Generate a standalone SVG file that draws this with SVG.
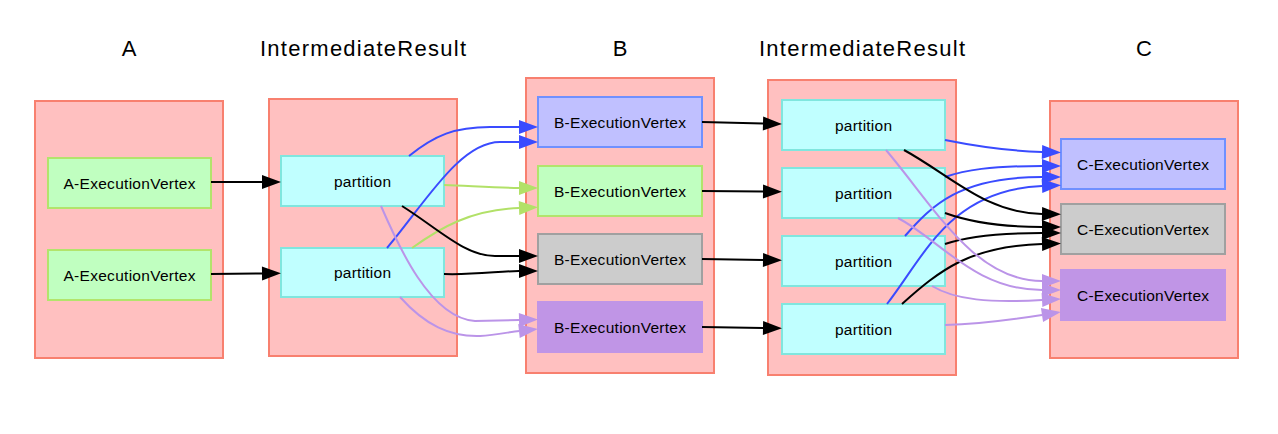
<svg xmlns="http://www.w3.org/2000/svg" width="1278" height="434" viewBox="0 0 1278 434">
<style>
.bg{fill:#ffffff}
.cluster{fill:#ffc0c0;stroke:#f8806f;stroke-width:2}
.title{font-family:"Liberation Sans",Arial,sans-serif;font-size:22px;fill:#000;text-anchor:middle}
.lbl{font-family:"Liberation Sans",Arial,sans-serif;font-size:15.5px;fill:#000;text-anchor:middle}
.green{fill:#c0ffc0;stroke:#b2e46c;stroke-width:2}
.part{fill:#c0ffff;stroke:#80e6de;stroke-width:2}
.blue{fill:#c0c0ff;stroke:#7090ff;stroke-width:2}
.gray{fill:#cccccc;stroke:#a0a0a0;stroke-width:2}
.purple{fill:#c095e6;stroke:#c095e6;stroke-width:2}
.e{fill:none;stroke-width:2}
.k{stroke:#000000}
.b{stroke:#3a4bff}
.g{stroke:#b2e168}
.p{stroke:#bb94e8}
</style>
<defs>
<marker id="ak" markerUnits="userSpaceOnUse" markerWidth="19" markerHeight="14" refX="0" refY="7" orient="auto" overflow="visible"><path d="M0,0 L19,7 L0,14 z" fill="#000000"/></marker>
<marker id="ab" markerUnits="userSpaceOnUse" markerWidth="19" markerHeight="14" refX="0" refY="7" orient="auto" overflow="visible"><path d="M0,0 L19,7 L0,14 z" fill="#3a4bff"/></marker>
<marker id="ag" markerUnits="userSpaceOnUse" markerWidth="19" markerHeight="14" refX="0" refY="7" orient="auto" overflow="visible"><path d="M0,0 L19,7 L0,14 z" fill="#b2e168"/></marker>
<marker id="ap" markerUnits="userSpaceOnUse" markerWidth="19" markerHeight="14" refX="0" refY="7" orient="auto" overflow="visible"><path d="M0,0 L19,7 L0,14 z" fill="#bb94e8"/></marker>
</defs>
<rect class="bg" x="0" y="0" width="1278" height="434"/>

<g id="clusterA">
<text class="title" x="129" y="56">A</text>
<rect class="cluster" x="35" y="101" width="188" height="257"/>
</g>
<g id="clusterIR1">
<text class="title" x="363" y="56" textLength="206" lengthAdjust="spacing">IntermediateResult</text>
<rect class="cluster" x="269" y="99" width="188" height="257"/>
</g>
<g id="clusterB">
<text class="title" x="620" y="56">B</text>
<rect class="cluster" x="526" y="78" width="188" height="295"/>
</g>
<g id="clusterIR2">
<text class="title" x="862" y="56" textLength="206" lengthAdjust="spacing">IntermediateResult</text>
<rect class="cluster" x="768" y="80" width="188" height="295"/>
</g>
<g id="clusterC">
<text class="title" x="1144" y="56">C</text>
<rect class="cluster" x="1050" y="101" width="188" height="257"/>
</g>

<g id="A1"><rect class="green" x="48" y="158" width="163" height="50"/><text class="lbl" x="129.5" y="188.5" textLength="132" lengthAdjust="spacing">A-ExecutionVertex</text></g>
<g id="A2"><rect class="green" x="48" y="250" width="163" height="50"/><text class="lbl" x="129.5" y="280.5" textLength="132" lengthAdjust="spacing">A-ExecutionVertex</text></g>

<g id="IR1P1"><rect class="part" x="281" y="156" width="163" height="50"/><text class="lbl" x="362.5" y="186.5" textLength="57" lengthAdjust="spacing">partition</text></g>
<g id="IR1P2"><rect class="part" x="281" y="248" width="163" height="49"/><text class="lbl" x="362.5" y="278" textLength="57" lengthAdjust="spacing">partition</text></g>

<g id="B1"><rect class="blue" x="538" y="97" width="164" height="50"/><text class="lbl" x="620" y="127.5" textLength="132" lengthAdjust="spacing">B-ExecutionVertex</text></g>
<g id="B2"><rect class="green" x="538" y="166" width="164" height="50"/><text class="lbl" x="620" y="196.5" textLength="132" lengthAdjust="spacing">B-ExecutionVertex</text></g>
<g id="B3"><rect class="gray" x="538" y="234" width="164" height="50"/><text class="lbl" x="620" y="264.5" textLength="132" lengthAdjust="spacing">B-ExecutionVertex</text></g>
<g id="B4"><rect class="purple" x="538" y="302" width="164" height="50"/><text class="lbl" x="620" y="332.5" textLength="132" lengthAdjust="spacing">B-ExecutionVertex</text></g>

<g id="IR2P1"><rect class="part" x="782" y="100" width="163" height="50"/><text class="lbl" x="863.5" y="130.5" textLength="57" lengthAdjust="spacing">partition</text></g>
<g id="IR2P2"><rect class="part" x="782" y="168" width="163" height="50"/><text class="lbl" x="863.5" y="198.5" textLength="57" lengthAdjust="spacing">partition</text></g>
<g id="IR2P3"><rect class="part" x="782" y="236" width="163" height="50"/><text class="lbl" x="863.5" y="266.5" textLength="57" lengthAdjust="spacing">partition</text></g>
<g id="IR2P4"><rect class="part" x="782" y="304" width="163" height="50"/><text class="lbl" x="863.5" y="334.5" textLength="57" lengthAdjust="spacing">partition</text></g>

<g id="C1"><rect class="blue" x="1061" y="139" width="164" height="50"/><text class="lbl" x="1143" y="169.5" textLength="132" lengthAdjust="spacing">C-ExecutionVertex</text></g>
<g id="C2"><rect class="gray" x="1061" y="204" width="164" height="50"/><text class="lbl" x="1143" y="234.5" textLength="132" lengthAdjust="spacing">C-ExecutionVertex</text></g>
<g id="C3"><rect class="purple" x="1061" y="270" width="164" height="50"/><text class="lbl" x="1143" y="300.5" textLength="132" lengthAdjust="spacing">C-ExecutionVertex</text></g>

<g id="connectors">
<path class="e k" marker-end="url(#ak)" d="M211,182 L262,182"/>
<path class="e k" marker-end="url(#ak)" d="M211,274 L262,273.5"/>

<path class="e b" marker-end="url(#ab)" d="M409,156 C435,135 455,127 490,127 L519,127"/>
<path class="e b" marker-end="url(#ab)" d="M387,248 C425,203 460,142 500,142 L519,142"/>
<path class="e g" marker-end="url(#ag)" d="M444,185 C470,186 500,188 519,188"/>
<path class="e g" marker-end="url(#ag)" d="M412,248 C440,228 470,210 519,208"/>
<path class="e k" marker-end="url(#ak)" d="M402,206 C440,230 465,256 495,256 L519,256"/>
<path class="e k" marker-end="url(#ak)" d="M444,274 C475,275 500,271 519,271"/>
<path class="e p" marker-end="url(#ap)" d="M381,206 C398,245 430,318 475,321 L519,320"/>
<path class="e p" marker-end="url(#ap)" d="M400,297 C425,325 450,337 480,336 C495,335 510,332 519,331"/>

<path class="e k" marker-end="url(#ak)" d="M702,122 L763,123.5"/>
<path class="e k" marker-end="url(#ak)" d="M702,191 L763,191.5"/>
<path class="e k" marker-end="url(#ak)" d="M702,259 L763,260"/>
<path class="e k" marker-end="url(#ak)" d="M702,327 L763,328"/>

<path class="e b" marker-end="url(#ab)" d="M945,140 C975,146 1010,151 1042,152"/>
<path class="e b" marker-end="url(#ab)" d="M945,177 C965,170 990,166 1042,166"/>
<path class="e b" marker-end="url(#ab)" d="M905,236 C932,205 960,177 1042,177"/>
<path class="e b" marker-end="url(#ab)" d="M887,304 C925,255 950,190 1042,186"/>

<path class="e k" marker-end="url(#ak)" d="M904,150 C950,175 985,213 1042,214"/>
<path class="e k" marker-end="url(#ak)" d="M945,213 C970,222 1000,227 1042,227"/>
<path class="e k" marker-end="url(#ak)" d="M945,244 C965,237 995,233 1042,233"/>
<path class="e k" marker-end="url(#ak)" d="M902,304 C940,270 970,246 1042,244"/>

<path class="e p" marker-end="url(#ap)" d="M886,150 C935,208 975,281 1042,281"/>
<path class="e p" marker-end="url(#ap)" d="M898,218 C940,240 975,290 1042,290"/>
<path class="e p" marker-end="url(#ap)" d="M932,286 C955,300 990,303 1042,300"/>
<path class="e p" marker-end="url(#ap)" d="M945,325 C980,324 1010,320 1042,315"/>
</g>
</svg>
